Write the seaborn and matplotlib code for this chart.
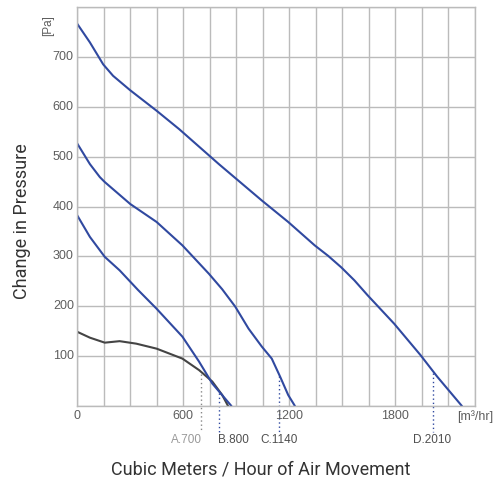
import numpy as np
import pandas as pd
import matplotlib
matplotlib.use("Agg")
import matplotlib.pyplot as plt
import seaborn as sns

# curve data (flow m3/hr -> pressure Pa)
flow_a = [0, 73, 157, 241, 335, 450, 596, 690, 765, 821, 854]
pres_a = [149, 137, 127, 130, 125, 115, 95, 72, 49, 22, 0]

flow_b = [0, 73, 157, 241, 344, 450, 596, 690, 765, 873]
pres_b = [383, 339, 299, 272, 233, 195, 139, 89, 45, 0]

flow_c = [0, 73, 129, 157, 301, 450, 596, 746, 821, 895, 970, 1045, 1101, 1148, 1194, 1232]
pres_c = [527, 485, 459, 449, 405, 369, 322, 265, 234, 199, 155, 119, 95, 59, 22, 0]

flow_d = [0, 73, 148, 204, 301, 450, 578, 802, 1045, 1194, 1344, 1420, 1494, 1568, 1643,
          1793, 1942, 2036, 2176]
pres_d = [767, 729, 685, 662, 633, 592, 555, 485, 412, 369, 322, 301, 278, 252, 222,
          165, 102, 59, 0]

curve_names = ["A", "B", "C", "D"]
marker_flow = [700, 800, 1140, 2010]
marker_labels = ["A.700", "B.800", "C.1140", "D.2010"]
marker_align = ["right", "left", "center", "center"]

x_ticks = [0, 600, 1200, 1800]
y_ticks = [100, 200, 300, 400, 500, 600, 700]

blue = "#3049a0"
dark = "#444444"
colors = {"A": dark, "B": blue, "C": blue, "D": blue}

df = pd.concat([
    pd.DataFrame({"flow": f, "pressure": p, "curve": n})
    for f, p, n in zip([flow_a, flow_b, flow_c, flow_d],
                       [pres_a, pres_b, pres_c, pres_d], curve_names)
])

sns.set_style("white")
plt.rcParams["font.family"] = ["Liberation Sans", "DejaVu Sans"]

fig = plt.figure(figsize=(5.01, 4.87), dpi=100)
ax = fig.add_axes([77 / 501, 1 - 406 / 487, 398 / 501, 399 / 487])

sns.lineplot(data=df, x="flow", y="pressure", hue="curve", palette=colors,
             sort=False, estimator=None, linewidth=1.5, legend=False, ax=ax)

ax.set_xlim(0, 2250)
ax.set_ylim(0, 800)
ax.set_xticks(np.arange(0, 2251, 150))
ax.set_yticks(np.arange(0, 801, 100))
ax.grid(True, color="#bbbbbb", linewidth=1)
ax.set_axisbelow(True)
for s in ax.spines.values():
    s.set_color("#bbbbbb")
    s.set_linewidth(1)
ax.tick_params(length=0, labelbottom=False, labelleft=False)
ax.set_xlabel("")
ax.set_ylabel("")

grey_txt = "#5e5e5e"
for v in x_ticks:
    ax.text(v, -8, str(v), ha="center", va="top", fontsize=9, color=grey_txt)
for v in y_ticks:
    ax.text(-18, v, str(v), ha="right", va="center", fontsize=9, color=grey_txt)
ax.text(2250, -8, "[m³/hr]", ha="center", va="top", fontsize=9, color=grey_txt)
ax.text(-165, 762, "[Pa]", ha="center", va="center", rotation=90, fontsize=8.5,
        color=grey_txt)

# dotted marker lines with labels
curves = {"A": (flow_a, pres_a), "B": (flow_b, pres_b), "C": (flow_c, pres_c), "D": (flow_d, pres_d)}
for name, fx, lab, al in zip(curve_names, marker_flow, marker_labels, marker_align):
    f, p = curves[name]
    top = np.interp(fx, f, p)
    lc = "#888888" if name == "A" else blue
    ax.plot([fx, fx], [top - 4, -52], linestyle=(0, (1, 2)), color=lc, linewidth=1, clip_on=False)
    tc = "#999999" if name == "A" else "#4f4f4f"
    off = {"right": 5, "left": -5, "center": 0}[al]
    ax.text(fx + off, -68, lab, ha=al, va="center", fontsize=8.5, color=tc)

fig.text(22 / 501, 1 - 221 / 487, "Change in Pressure", rotation=90, ha="center", va="center",
         fontsize=13, color="#333333", family=["Roboto", "DejaVu Sans"])
fig.text(261 / 501, 1 - 469 / 487, "Cubic Meters / Hour of Air Movement", ha="center", va="center",
         fontsize=13, color="#333333", family=["Roboto", "DejaVu Sans"])

fig.savefig("out.png", dpi=100)
